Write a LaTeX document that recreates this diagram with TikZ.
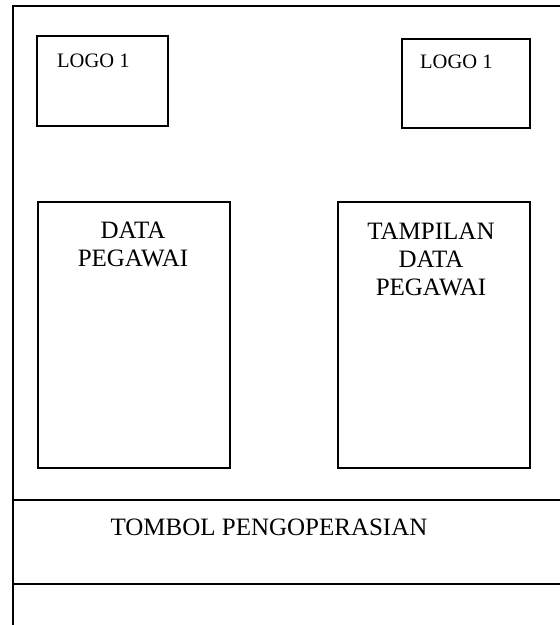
\documentclass[tikz,border=0pt]{standalone}
\usepackage{fontspec}
\setmainfont{Liberation Serif}
\begin{document}
\begin{tikzpicture}[x=1pt,y=-1pt,
  frameline/.style={line width=1.6pt,line cap=rect},
  boxshape/.style={draw,line width=1.6pt,rectangle,inner sep=0pt},
  bigtext/.style={font=\fontsize{25}{28}\selectfont,inner sep=0pt,align=center},
  logotext/.style={font=\fontsize{20.5}{24}\selectfont,inner sep=0pt}]
\useasboundingbox (0,0) rectangle (560,625);
% outer frame
\coordinate (tl) at (13,6);
\coordinate (tr) at (560,6);
\coordinate (bl) at (13,625);
\coordinate (m1l) at (13,500);
\coordinate (m1r) at (560,500);
\coordinate (m2l) at (13,584);
\coordinate (m2r) at (560,584);
\draw[frameline] (tr) -- (tl) -- (bl);
\draw[frameline] (m1l) -- (m1r);
\draw[frameline] (m2l) -- (m2r);
% logo boxes
\node[boxshape,minimum width=131pt,minimum height=90pt,anchor=north west] (logoA) at (36,35) {};
\node[boxshape,minimum width=128pt,minimum height=89pt,anchor=north west] (logoB) at (401,38) {};
\node[logotext,anchor=base west] (logoAt) at (57,67) {LOGO 1};
\node[logotext,anchor=base west] (logoBt) at (420,68) {LOGO 1};
% data boxes
\node[boxshape,minimum width=192pt,minimum height=266pt,anchor=north west] (dataA) at (37,201) {};
\node[boxshape,minimum width=192pt,minimum height=266pt,anchor=north west] (dataB) at (337,201) {};
\node[bigtext,anchor=north] (dataAt) at (133,221.5) {DATA\\PEGAWAI};
\node[bigtext,anchor=north] (dataBt) at (431,223) {TAMPILAN\\DATA\\PEGAWAI};
% buttons
\node[bigtext,anchor=base] (tombol) at (269,535) {TOMBOL PENGOPERASIAN};
\end{tikzpicture}
\end{document}
